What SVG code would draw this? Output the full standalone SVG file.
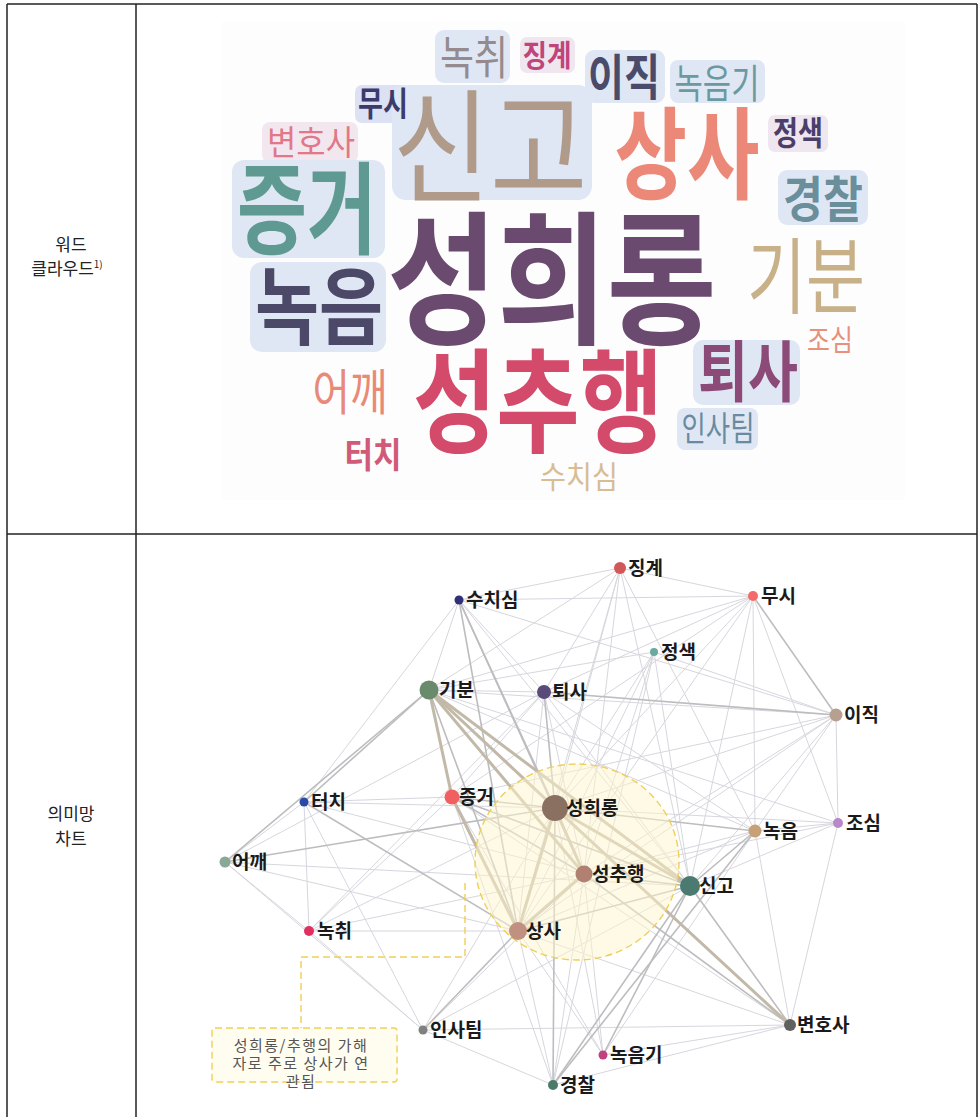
<svg xmlns="http://www.w3.org/2000/svg" width="978" height="1117" viewBox="0 0 978 1117">
<style>
.grid{stroke:#222;stroke-width:1.5;fill:none}
.lbl{font-family:"Noto Sans CJK KR","Noto Sans",sans-serif;font-size:17px;fill:#222;text-anchor:middle}
.wc{font-family:"Noto Sans CJK KR","Noto Sans",sans-serif;text-anchor:middle}
.b{font-weight:bold}
.bg{fill:#dfe7f5}
.bgp{fill:#efe6f0}
.e1{stroke:#d6d6de;stroke-width:1}
.e2{stroke:#bdbdc0;stroke-width:1.6}
.e3{stroke:#c2b9a8;stroke-width:3}
.nl{font-family:"Noto Sans CJK KR","Noto Sans",sans-serif;font-size:19px;font-weight:bold;fill:#1a1a1a}
.dash{stroke:#f0cf55;stroke-width:1.4;stroke-dasharray:7 4;fill:none}
.note{font-family:"Noto Sans CJK KR","Noto Sans",sans-serif;font-size:15px;fill:#555;text-anchor:middle;letter-spacing:1.5px}
</style>
<rect width="978" height="1117" fill="#fff"/>
<!-- table -->
<g id="table">
<line class="grid" x1="7" y1="4" x2="977" y2="4"/>
<line class="grid" x1="7" y1="4" x2="7" y2="1117"/>
<line class="grid" x1="136" y1="4" x2="136" y2="1117"/>
<line class="grid" x1="977" y1="4" x2="977" y2="1117"/>
<line class="grid" x1="7" y1="534" x2="977" y2="534"/>
<text class="lbl" x="71" y="251">워드</text>
<text class="lbl" x="67" y="275">클라우드<tspan font-size="10" dy="-7">1)</tspan></text>
<text class="lbl" x="71" y="820">의미망</text>
<text class="lbl" x="71" y="845">차트</text>
</g>
<!-- word cloud -->
<g id="wordcloud">
<rect x="222" y="22" width="683" height="478" fill="#fdfdfe"/>
<rect class="bg" x="435" y="30" width="75" height="53" rx="9"/>
<rect class="bgp" x="520" y="37" width="55" height="36" rx="7"/>
<rect class="bg" x="585" y="50" width="80" height="53" rx="9"/>
<rect class="bg" x="670" y="60" width="95" height="43" rx="8"/>
<rect x="355" y="85" width="55" height="38" rx="7" fill="#dde1f4"/>
<rect class="bg" x="392" y="85" width="200" height="115" rx="14"/>
<rect class="bgp" x="768" y="115" width="60" height="37" rx="7"/>
<rect x="262" y="122" width="96" height="41" rx="8" fill="#f3e7ef"/>
<rect class="bg" x="232" y="160" width="153" height="98" rx="12"/>
<rect class="bg" x="778" y="170" width="90" height="55" rx="9"/>
<rect class="bg" x="250" y="262" width="136" height="90" rx="12"/>
<rect class="bg" x="693" y="340" width="107" height="65" rx="10"/>
<rect class="bg" x="677" y="408" width="81" height="42" rx="8"/>
<text class="wc" x="474" y="74" font-size="46" fill="#958a8d" textLength="68" lengthAdjust="spacingAndGlyphs">녹취</text>
<text class="wc b" x="547" y="66" font-size="30" fill="#c0457a" textLength="49" lengthAdjust="spacingAndGlyphs">징계</text>
<text class="wc b" x="624" y="95" font-size="49" fill="#4a4a6a" textLength="72" lengthAdjust="spacingAndGlyphs">이직</text>
<text class="wc" x="717" y="98" font-size="40" fill="#6a9aa0" textLength="85" lengthAdjust="spacingAndGlyphs">녹음기</text>
<text class="wc b" x="383" y="116" font-size="34" fill="#3c3c6c" textLength="50" lengthAdjust="spacingAndGlyphs">무시</text>
<text class="wc" x="490" y="193" font-size="124" fill="#b09a8a" textLength="195" lengthAdjust="spacingAndGlyphs">신고</text>
<text class="wc b" x="687" y="191" font-size="100" fill="#ec8878" textLength="145" lengthAdjust="spacingAndGlyphs">상사</text>
<text class="wc b" x="798" y="145" font-size="33" fill="#4a3f6a" textLength="50" lengthAdjust="spacingAndGlyphs">정색</text>
<text class="wc" x="311" y="155" font-size="34" fill="#e07888" textLength="88" lengthAdjust="spacingAndGlyphs">변호사</text>
<text class="wc b" x="307" y="246" font-size="100" fill="#5f9a92" textLength="140" lengthAdjust="spacingAndGlyphs">증거</text>
<text class="wc b" x="823" y="217" font-size="49" fill="#6a8e9a" textLength="80" lengthAdjust="spacingAndGlyphs">경찰</text>
<text class="wc b" x="552" y="333" font-size="144" fill="#6a4a6e" textLength="329" lengthAdjust="spacingAndGlyphs">성희롱</text>
<text class="wc" x="806" y="307" font-size="83" fill="#c8b088" textLength="118" lengthAdjust="spacingAndGlyphs">기분</text>
<text class="wc b" x="319" y="338" font-size="84" fill="#4c4868" textLength="128" lengthAdjust="spacingAndGlyphs">녹음</text>
<text class="wc" x="830" y="351" font-size="29" fill="#e8907a" textLength="46" lengthAdjust="spacingAndGlyphs">조심</text>
<text class="wc b" x="748" y="396" font-size="66" fill="#8c4a78" textLength="100" lengthAdjust="spacingAndGlyphs">퇴사</text>
<text class="wc" x="350" y="410" font-size="49" fill="#e88a78" textLength="75" lengthAdjust="spacingAndGlyphs">어깨</text>
<text class="wc b" x="538" y="443" font-size="113" fill="#d44a6a" textLength="250" lengthAdjust="spacingAndGlyphs">성추행</text>
<text class="wc" x="718" y="441" font-size="34" fill="#6a8aa0" textLength="73" lengthAdjust="spacingAndGlyphs">인사팀</text>
<text class="wc b" x="373" y="468" font-size="35" fill="#d05a78" textLength="57" lengthAdjust="spacingAndGlyphs">터치</text>
<text class="wc" x="579" y="488" font-size="31" fill="#d8bc94" textLength="78" lengthAdjust="spacingAndGlyphs">수치심</text>
</g>
<!-- connectors -->
<g id="connectors">
<line class="e1" x1="459" y1="600" x2="620" y2="568"/>
<line class="e1" x1="459" y1="600" x2="753" y2="596"/>
<line class="e1" x1="459" y1="600" x2="429" y2="690"/>
<line class="e1" x1="459" y1="600" x2="304" y2="802"/>
<line class="e1" x1="459" y1="600" x2="544" y2="692"/>
<line class="e1" x1="459" y1="600" x2="690" y2="886"/>
<line class="e1" x1="459" y1="600" x2="836" y2="715"/>
<line class="e1" x1="620" y1="568" x2="753" y2="596"/>
<line class="e1" x1="620" y1="568" x2="429" y2="690"/>
<line class="e1" x1="620" y1="568" x2="544" y2="692"/>
<line class="e1" x1="620" y1="568" x2="555" y2="808"/>
<line class="e1" x1="620" y1="568" x2="518" y2="931"/>
<line class="e1" x1="620" y1="568" x2="690" y2="886"/>
<line class="e1" x1="620" y1="568" x2="755" y2="831"/>
<line class="e1" x1="620" y1="568" x2="584" y2="874"/>
<line class="e1" x1="753" y1="596" x2="429" y2="690"/>
<line class="e1" x1="753" y1="596" x2="544" y2="692"/>
<line class="e1" x1="753" y1="596" x2="838" y2="823"/>
<line class="e1" x1="753" y1="596" x2="690" y2="886"/>
<line class="e1" x1="753" y1="596" x2="555" y2="808"/>
<line class="e1" x1="753" y1="596" x2="518" y2="931"/>
<line class="e1" x1="753" y1="596" x2="755" y2="831"/>
<line class="e1" x1="753" y1="596" x2="452" y2="797"/>
<line class="e1" x1="654" y1="652" x2="836" y2="715"/>
<line class="e1" x1="654" y1="652" x2="555" y2="808"/>
<line class="e1" x1="654" y1="652" x2="518" y2="931"/>
<line class="e1" x1="654" y1="652" x2="429" y2="690"/>
<line class="e1" x1="654" y1="652" x2="584" y2="874"/>
<line class="e1" x1="654" y1="652" x2="690" y2="886"/>
<line class="e1" x1="654" y1="652" x2="553" y2="1085"/>
<line class="e1" x1="429" y1="690" x2="836" y2="715"/>
<line class="e1" x1="429" y1="690" x2="544" y2="692"/>
<line class="e1" x1="429" y1="690" x2="755" y2="831"/>
<line class="e1" x1="429" y1="690" x2="838" y2="823"/>
<line class="e1" x1="544" y1="692" x2="584" y2="874"/>
<line class="e1" x1="544" y1="692" x2="518" y2="931"/>
<line class="e1" x1="544" y1="692" x2="690" y2="886"/>
<line class="e1" x1="544" y1="692" x2="755" y2="831"/>
<line class="e1" x1="544" y1="692" x2="452" y2="797"/>
<line class="e1" x1="544" y1="692" x2="225" y2="862"/>
<line class="e1" x1="544" y1="692" x2="309" y2="931"/>
<line class="e1" x1="836" y1="715" x2="555" y2="808"/>
<line class="e1" x1="836" y1="715" x2="584" y2="874"/>
<line class="e1" x1="836" y1="715" x2="690" y2="886"/>
<line class="e1" x1="836" y1="715" x2="838" y2="823"/>
<line class="e1" x1="836" y1="715" x2="518" y2="931"/>
<line class="e1" x1="836" y1="715" x2="755" y2="831"/>
<line class="e1" x1="836" y1="715" x2="452" y2="797"/>
<line class="e1" x1="304" y1="802" x2="452" y2="797"/>
<line class="e1" x1="304" y1="802" x2="225" y2="862"/>
<line class="e1" x1="304" y1="802" x2="309" y2="931"/>
<line class="e1" x1="304" y1="802" x2="584" y2="874"/>
<line class="e1" x1="304" y1="802" x2="555" y2="808"/>
<line class="e1" x1="304" y1="802" x2="423" y2="1030"/>
<line class="e1" x1="452" y1="797" x2="790" y2="1025"/>
<line class="e1" x1="452" y1="797" x2="553" y2="1085"/>
<line class="e1" x1="452" y1="797" x2="603" y2="1055"/>
<line class="e1" x1="452" y1="797" x2="309" y2="931"/>
<line class="e1" x1="555" y1="808" x2="838" y2="823"/>
<line class="e1" x1="555" y1="808" x2="423" y2="1030"/>
<line class="e1" x1="555" y1="808" x2="603" y2="1055"/>
<line class="e1" x1="555" y1="808" x2="309" y2="931"/>
<line class="e1" x1="838" y1="823" x2="755" y2="831"/>
<line class="e1" x1="838" y1="823" x2="690" y2="886"/>
<line class="e1" x1="838" y1="823" x2="790" y2="1025"/>
<line class="e1" x1="838" y1="823" x2="584" y2="874"/>
<line class="e1" x1="755" y1="831" x2="790" y2="1025"/>
<line class="e1" x1="755" y1="831" x2="518" y2="931"/>
<line class="e1" x1="755" y1="831" x2="603" y2="1055"/>
<line class="e1" x1="755" y1="831" x2="584" y2="874"/>
<line class="e1" x1="225" y1="862" x2="690" y2="886"/>
<line class="e1" x1="225" y1="862" x2="309" y2="931"/>
<line class="e1" x1="225" y1="862" x2="518" y2="931"/>
<line class="e1" x1="225" y1="862" x2="423" y2="1030"/>
<line class="e1" x1="584" y1="874" x2="553" y2="1085"/>
<line class="e1" x1="584" y1="874" x2="603" y2="1055"/>
<line class="e1" x1="584" y1="874" x2="423" y2="1030"/>
<line class="e1" x1="690" y1="886" x2="423" y2="1030"/>
<line class="e1" x1="309" y1="931" x2="518" y2="931"/>
<line class="e1" x1="309" y1="931" x2="423" y2="1030"/>
<line class="e1" x1="309" y1="931" x2="584" y2="874"/>
<line class="e1" x1="518" y1="931" x2="790" y2="1025"/>
<line class="e1" x1="518" y1="931" x2="553" y2="1085"/>
<line class="e1" x1="518" y1="931" x2="603" y2="1055"/>
<line class="e1" x1="423" y1="1030" x2="790" y2="1025"/>
<line class="e1" x1="423" y1="1030" x2="553" y2="1085"/>
<line class="e1" x1="790" y1="1025" x2="603" y2="1055"/>
<line class="e1" x1="790" y1="1025" x2="553" y2="1085"/>
<line class="e2" x1="459" y1="600" x2="555" y2="808"/>
<line class="e2" x1="459" y1="600" x2="584" y2="874"/>
<line class="e2" x1="459" y1="600" x2="518" y2="931"/>
<line class="e2" x1="753" y1="596" x2="836" y2="715"/>
<line class="e2" x1="429" y1="690" x2="304" y2="802"/>
<line class="e2" x1="429" y1="690" x2="225" y2="862"/>
<line class="e2" x1="429" y1="690" x2="518" y2="931"/>
<line class="e2" x1="429" y1="690" x2="790" y2="1025"/>
<line class="e2" x1="544" y1="692" x2="836" y2="715"/>
<line class="e2" x1="544" y1="692" x2="555" y2="808"/>
<line class="e2" x1="304" y1="802" x2="518" y2="931"/>
<line class="e2" x1="452" y1="797" x2="555" y2="808"/>
<line class="e2" x1="452" y1="797" x2="584" y2="874"/>
<line class="e2" x1="452" y1="797" x2="690" y2="886"/>
<line class="e2" x1="555" y1="808" x2="755" y2="831"/>
<line class="e2" x1="555" y1="808" x2="553" y2="1085"/>
<line class="e2" x1="755" y1="831" x2="690" y2="886"/>
<line class="e2" x1="755" y1="831" x2="553" y2="1085"/>
<line class="e2" x1="225" y1="862" x2="555" y2="808"/>
<line class="e2" x1="584" y1="874" x2="690" y2="886"/>
<line class="e2" x1="584" y1="874" x2="790" y2="1025"/>
<line class="e2" x1="690" y1="886" x2="518" y2="931"/>
<line class="e2" x1="690" y1="886" x2="553" y2="1085"/>
<line class="e2" x1="690" y1="886" x2="603" y2="1055"/>
<line class="e2" x1="690" y1="886" x2="790" y2="1025"/>
<line class="e2" x1="518" y1="931" x2="423" y2="1030"/>
<line class="e3" x1="429" y1="690" x2="452" y2="797"/>
<line class="e3" x1="429" y1="690" x2="555" y2="808"/>
<line class="e3" x1="429" y1="690" x2="584" y2="874"/>
<line class="e3" x1="429" y1="690" x2="690" y2="886"/>
<line class="e3" x1="452" y1="797" x2="518" y2="931"/>
<line class="e3" x1="555" y1="808" x2="584" y2="874"/>
<line class="e3" x1="555" y1="808" x2="518" y2="931"/>
<line class="e3" x1="555" y1="808" x2="690" y2="886"/>
<line class="e3" x1="555" y1="808" x2="790" y2="1025"/>
<line class="e3" x1="584" y1="874" x2="518" y2="931"/>
</g>
<!-- highlight and callout -->
<g id="highlight">
<ellipse cx="577" cy="862" rx="102" ry="98" fill="#fff6cc" fill-opacity="0.5"/>
<ellipse class="dash" cx="577" cy="862" rx="102" ry="98"/>
<polyline class="dash" points="465,883 465,957 301,957 301,1028"/>
</g>
<g id="callout">
<rect x="212" y="1028" width="185" height="54" rx="3" fill="#fffdf0" stroke="#f0cf55" stroke-width="1.4" stroke-dasharray="7 4"/>
<text class="note" x="301" y="1051">성희롱/추행의 가해</text>
<text class="note" x="301" y="1069">자로 주로 상사가 연</text>
<text class="note" x="301" y="1087">관됨</text>
</g>
<!-- nodes -->
<g id="n-jinggye"><circle cx="620" cy="568" r="6" fill="#d05858"/><text class="nl" x="628" y="575">징계</text></g>
<g id="n-musi"><circle cx="753" cy="596" r="5" fill="#f26a6a"/><text class="nl" x="761" y="603">무시</text></g>
<g id="n-suchisim"><circle cx="459" cy="600" r="4.5" fill="#30307a"/><text class="nl" x="466" y="607">수치심</text></g>
<g id="n-jeongsaek"><circle cx="654" cy="652" r="4" fill="#6aa8a0"/><text class="nl" x="661" y="659">정색</text></g>
<g id="n-gibun"><circle cx="429" cy="690" r="9.5" fill="#6a8a6c"/><text class="nl" x="439" y="697">기분</text></g>
<g id="n-toesa"><circle cx="544" cy="692" r="7" fill="#5a4a7a"/><text class="nl" x="552" y="699">퇴사</text></g>
<g id="n-ijik"><circle cx="836" cy="715" r="6.5" fill="#b8a090"/><text class="nl" x="844" y="722">이직</text></g>
<g id="n-teochi"><circle cx="304" cy="802" r="4.5" fill="#2a4aa8"/><text class="nl" x="311" y="809">터치</text></g>
<g id="n-jeunggeo"><circle cx="452" cy="797" r="7.5" fill="#f06060"/><text class="nl" x="459" y="804">증거</text></g>
<g id="n-seonghuirong"><circle cx="555" cy="808" r="13" fill="#8a7060"/><text class="nl" x="566" y="815">성희롱</text></g>
<g id="n-josim"><circle cx="838" cy="823" r="5" fill="#b888c8"/><text class="nl" x="846" y="830">조심</text></g>
<g id="n-nogeum"><circle cx="755" cy="831" r="6.5" fill="#c8a078"/><text class="nl" x="763" y="838">녹음</text></g>
<g id="n-eokkae"><circle cx="225" cy="862" r="5.5" fill="#8aa898"/><text class="nl" x="232" y="869">어깨</text></g>
<g id="n-seongchuhaeng"><circle cx="584" cy="874" r="8.5" fill="#b08070"/><text class="nl" x="592" y="881">성추행</text></g>
<g id="n-singo"><circle cx="690" cy="886" r="10" fill="#4a7a70"/><text class="nl" x="699" y="893">신고</text></g>
<g id="n-nokchwi"><circle cx="309" cy="931" r="5" fill="#e03060"/><text class="nl" x="317" y="938">녹취</text></g>
<g id="n-sangsa"><circle cx="518" cy="931" r="9" fill="#c09080"/><text class="nl" x="526" y="938">상사</text></g>
<g id="n-insatim"><circle cx="423" cy="1030" r="4.5" fill="#808080"/><text class="nl" x="430" y="1037">인사팀</text></g>
<g id="n-byeonhosa"><circle cx="790" cy="1025" r="6" fill="#606060"/><text class="nl" x="797" y="1032">변호사</text></g>
<g id="n-nogeumgi"><circle cx="603" cy="1055" r="4.5" fill="#c04080"/><text class="nl" x="610" y="1062">녹음기</text></g>
<g id="n-gyeongchal"><circle cx="553" cy="1085" r="5" fill="#4a7a68"/><text class="nl" x="560" y="1092">경찰</text></g>
</svg>
